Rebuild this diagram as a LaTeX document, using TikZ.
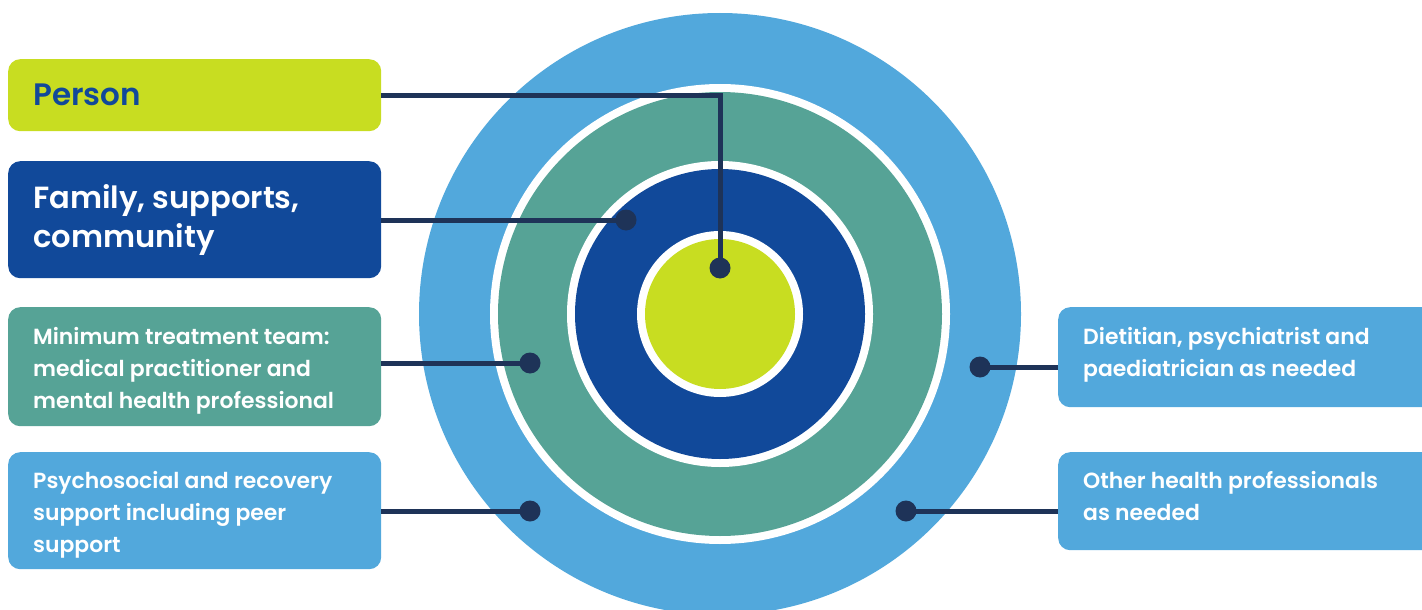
\documentclass[tikz,border=0pt]{standalone}
\usepackage{fontspec}
\setmainfont{Poppins}
\newfontfamily\pmed{Poppins SemiBold}
\newfontfamily\psemi{Poppins SemiBold}
\definecolor{cLBlue}{HTML}{52A8DC}
\definecolor{cTeal}{HTML}{56A396}
\definecolor{cDark}{HTML}{11499A}
\definecolor{cLime}{HTML}{C8DD21}
\definecolor{cNavy}{HTML}{1E3358}
\begin{document}
\begin{tikzpicture}[x=1pt,y=-1pt,
  box/.style={rounded corners=12pt, inner sep=0pt, anchor=north west, minimum width=373pt},
  rbox/.style={rounded corners=12pt, inner sep=0pt, anchor=north west, minimum width=400pt, fill=cLBlue},
  txt/.style={inner sep=0pt, anchor=base west, align=left, text=white, font=\pmed\fontsize{21.9}{32}\selectfont},
  conn/.style={draw=cNavy, line width=5pt},
  dotn/.style={circle, fill=cNavy, minimum size=21pt, inner sep=0pt}
]
\clip (0,0) rectangle (1422,610);
% rings
\fill[cLBlue] (720,314) circle[radius=301pt];
\fill[white]  (720,314) circle[radius=230pt];
\fill[cTeal]  (720,314) circle[radius=222pt];
\fill[white]  (720,314) circle[radius=153pt];
\fill[cDark]  (720,314) circle[radius=145pt];
\fill[white]  (720,314) circle[radius=83pt];
\fill[cLime]  (720,314) circle[radius=75pt];
% boxes
\node[box, fill=cLime, minimum height=72pt] (person) at (8,59) {};
\node[box, fill=cDark, minimum height=117pt] (family) at (8,161) {};
\node[box, fill=cTeal, minimum height=119pt] (minteam) at (8,307) {};
\node[box, fill=cLBlue, minimum height=117pt] (psycho) at (8,452) {};
\node[rbox, minimum height=100pt] (diet) at (1058,307) {};
\node[rbox, minimum height=98pt] (other) at (1058,452) {};
% texts (anchored at the baseline of the last line)
\node[txt, text=cDark, font=\psemi\fontsize{31}{40}\selectfont] (persontxt) at (33,106) {Person};
\node[txt, font=\pmed\fontsize{30.6}{39}\selectfont] (familytxt) at (33,247) {Family, supports,\\community};
\node[txt] (mintxt) at (33,408) {Minimum treatment team:\\medical practitioner and\\mental health professional};
\node[txt] (psytxt) at (33,552) {Psychosocial and recovery\\support including peer\\support};
\node[txt] (diettxt) at (1083,376) {Dietitian, psychiatrist and\\paediatrician as needed};
\node[txt] (othertxt) at (1083,520) {Other health professionals\\as needed};
% dots
\node[dotn] (pdot) at (720,268) {};
\node[dotn] (fdot) at (626,220) {};
\node[dotn] (mdot) at (530,363) {};
\node[dotn] (sdot) at (530,511) {};
\node[dotn] (ddot) at (980,367) {};
\node[dotn] (odot) at (906,511) {};
% connectors
\draw[conn] (person.east) -| (pdot.center);
\draw[conn] (family.east |- fdot) -- (fdot.center);
\draw[conn] (minteam.east |- mdot) -- (mdot.center);
\draw[conn] (psycho.east |- sdot) -- (sdot.center);
\draw[conn] (diet.west |- ddot) -- (ddot.center);
\draw[conn] (other.west |- odot) -- (odot.center);
\end{tikzpicture}
\end{document}
